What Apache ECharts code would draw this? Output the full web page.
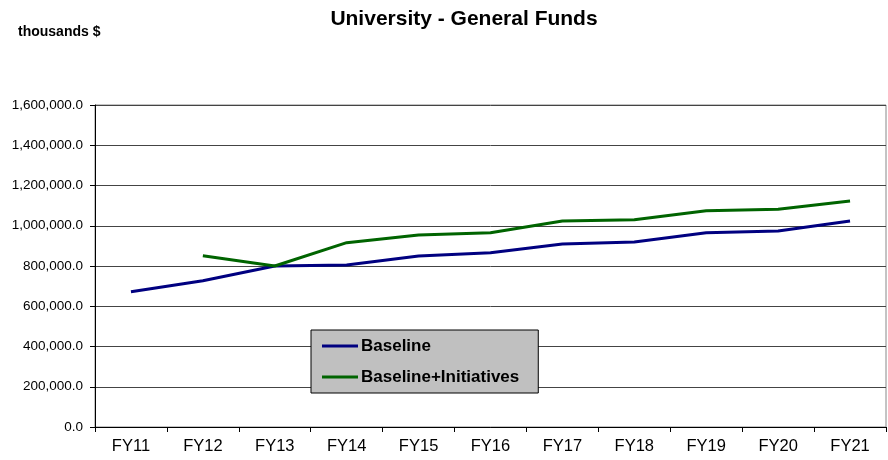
<!DOCTYPE html>
<html>
<head>
<meta charset="utf-8">
<script src="https://cdn.jsdelivr.net/npm/echarts@6/dist/echarts.min.js"></script>
<style>
  html, body { margin: 0; padding: 0; background: #fff; }
  #chart { width: 888px; height: 460px; }
</style>
</head>
<body>
<div id="chart"></div>
<script>
// 分类（财年）
const years = ['FY11', 'FY12', 'FY13', 'FY14', 'FY15', 'FY16', 'FY17', 'FY18', 'FY19', 'FY20', 'FY21'];
// Baseline 数据（千美元）
const baseline = [672000, 727000, 800000, 805000, 850000, 866000, 909000, 919000, 965000, 974000, 1024000];
// Baseline+Initiatives 数据，FY11 无值
const initiatives = [null, 851000, 800000, 916000, 954000, 965000, 1024000, 1030000, 1075000, 1082000, 1123000];

const font = 'Arial, "Liberation Sans", sans-serif';

const myChart = echarts.init(document.getElementById('chart'));

const option = {
    backgroundColor: '#fff',
    animation: false,
    title: [
        {
            text: 'University - General Funds',
            left: 459,
            textAlign: 'center',
            top: 4,
            textStyle: { fontFamily: font, fontSize: 21, fontWeight: 'bold', color: '#000' }
        },
        {
            text: 'thousands $',
            left: 13,
            top: 20,
            textStyle: { fontFamily: font, fontSize: 14, fontWeight: 'bold', color: '#000' }
        }
    ],
    legend: {
        orient: 'vertical',
        left: 311,
        top: 330,
        icon: 'rect',
        itemWidth: 36,
        itemHeight: 3,
        itemGap: 11,
        padding: [6, 19, 6, 11],
        backgroundColor: '#c0c0c0',
        borderColor: '#000',
        borderWidth: 1,
        borderRadius: 0,
        textStyle: { fontFamily: font, fontSize: 17, fontWeight: 'bold', color: '#000', padding: [0, 0, 0, -2], lineHeight: 20 },
        data: ['Baseline', 'Baseline+Initiatives']
    },
    grid: {
        left: 95,
        right: 2,
        top: 105,
        bottom: 33,
        show: true,
        borderColor: '#888',
        borderWidth: 1
    },
    xAxis: {
        type: 'category',
        data: years,
        boundaryGap: true,
        axisLine: { lineStyle: { color: '#000', width: 1 } },
        axisTick: { show: true, length: 5, lineStyle: { color: '#000' } },
        axisLabel: { fontFamily: font, fontSize: 16.5, color: '#000', margin: 11 }
    },
    yAxis: {
        type: 'value',
        min: 0,
        max: 1600000,
        interval: 200000,
        axisLine: { show: true, lineStyle: { color: '#000', width: 1 } },
        axisTick: { show: true, length: 5, lineStyle: { color: '#000' } },
        axisLabel: {
            fontFamily: font,
            fontSize: 13.5,
            color: '#000',
            margin: 12,
            formatter: v => v.toLocaleString('en-US') + '.0'
        },
        splitLine: { lineStyle: { color: '#444', width: 1 } }
    },
    series: [
        {
            name: 'Baseline',
            type: 'line',
            data: baseline,
            symbol: 'none',
            lineStyle: { color: '#000080', width: 3 },
            itemStyle: { color: '#000080' }
        },
        {
            name: 'Baseline+Initiatives',
            type: 'line',
            data: initiatives,
            symbol: 'none',
            lineStyle: { color: '#006400', width: 3 },
            itemStyle: { color: '#006400' }
        }
    ]
};

myChart.setOption(option);
</script>
</body>
</html>
